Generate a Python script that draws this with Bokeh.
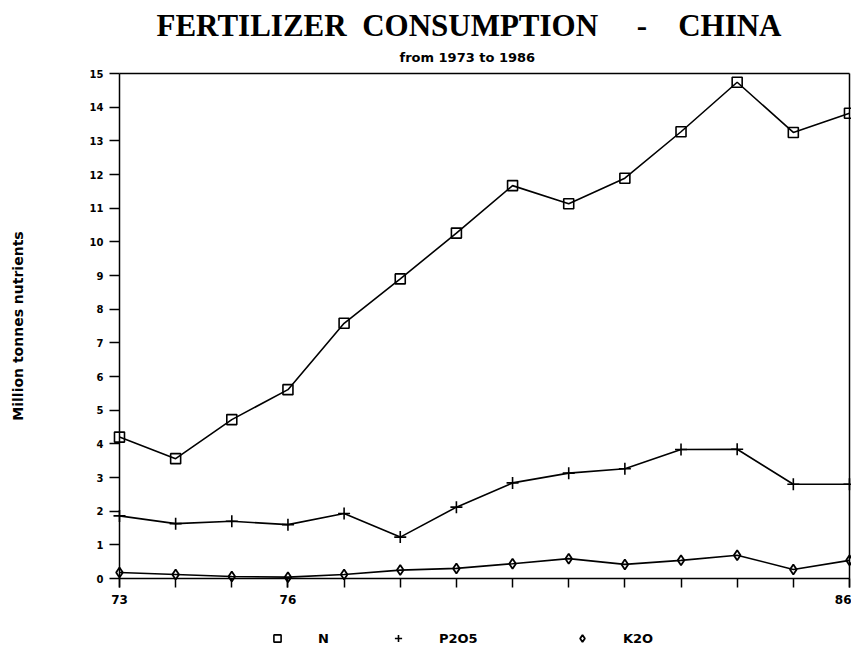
import math
from bokeh.plotting import figure
from bokeh.models import FixedTicker, Title, Legend, LegendItem, Range1d, LinearAxis, Label
from bokeh.embed import file_html
from bokeh.resources import INLINE

# ---- data (million tonnes nutrients) ----
years = [73, 74, 75, 76, 77, 78, 79, 80, 81, 82, 83, 84, 85, 86]
n_vals = [4.20, 3.56, 4.72, 5.61, 7.58, 8.90, 10.26, 11.67, 11.13, 11.89, 13.27, 14.74, 13.25, 13.82]
p2o5_vals = [1.86, 1.63, 1.70, 1.60, 1.93, 1.23, 2.12, 2.84, 3.13, 3.26, 3.83, 3.84, 2.80, 2.80]
k2o_vals = [0.18, 0.12, 0.06, 0.04, 0.12, 0.25, 0.30, 0.44, 0.59, 0.42, 0.54, 0.69, 0.27, 0.54]
x_label_years = [73, 76, 86]          # only these years carry a label
y_ticks = list(range(0, 16))
series_names = ["N", "P2O5", "K2O"]

TICK_FONT = "DejaVu Sans"
NB = "\u00a0"
X0, X1, Y0, Y1 = 73, 86, 0, 15
# view extents: room to the left for the y labels, above for the top label, below for the legend
VIEW_X = (70.881, 86.036)
VIEW_Y = (-2.049, 15.238)

p = figure(width=851, height=649, x_range=Range1d(*VIEW_X), y_range=Range1d(*VIEW_Y),
           output_backend="svg", toolbar_location=None,
           min_border_left=0, min_border_right=0, min_border_top=65, min_border_bottom=2,
           background_fill_color="white", border_fill_color="white")
p.xgrid.visible = False
p.ygrid.visible = False
p.outline_line_color = None

# titles
sub = Title(text="from 1973 to 1986", align="left", offset=399, text_font=TICK_FONT,
            text_font_size="13px", text_font_style="bold", text_color="black", standoff=2)
main = Title(text="FERTILIZER" + NB * 2 + "CONSUMPTION" + NB * 5 + "-" + NB * 4 + "CHINA",
             align="left", offset=156, text_font="Liberation Serif", text_font_size="31px",
             text_font_style="bold", text_color="black", standoff=7)
p.add_layout(sub, "above")
p.add_layout(main, "above")

# lines + markers
lw = 1.6
p.line(years, n_vals, line_color="black", line_width=lw)
rn = p.scatter(years, n_vals, marker="square", size=10, line_color="black", line_width=1.6,
               fill_color=None)
p.line(years, p2o5_vals, line_color="black", line_width=lw)
rp = p.scatter(years, p2o5_vals, marker="cross", size=12, line_color="black", line_width=1.6)
p.line(years, k2o_vals, line_color="black", line_width=lw)
rk = p.scatter(years, k2o_vals, marker="diamond", size=10, line_color="black", line_width=1.8,
               fill_color=None)

# axes (drawn at fixed data positions)
for ax in (p.xaxis[0], p.yaxis[0]):
    ax.axis_line_color = "black"
    ax.axis_line_width = 1.5
    ax.major_tick_line_width = 1.5
    ax.minor_tick_line_width = 1.5
    ax.major_tick_in = 0
    ax.minor_tick_in = 0
    ax.major_label_text_font = TICK_FONT
    ax.major_label_text_font_style = "bold"
    ax.major_label_text_color = "black"

p.xaxis.fixed_location = Y0
p.xaxis.bounds = (X0, X1)
p.xaxis.ticker = FixedTicker(ticks=x_label_years, minor_ticks=years)
p.xaxis.major_tick_out = 9
p.xaxis.minor_tick_out = 9
p.xaxis.minor_tick_line_color = "black"
p.xaxis.major_label_text_font_size = "12px"
p.xaxis.major_label_standoff = 7

p.yaxis.fixed_location = X0
p.yaxis.bounds = (Y0, Y1)
p.yaxis.ticker = FixedTicker(ticks=y_ticks)
p.yaxis.major_tick_out = 10
p.yaxis.minor_tick_line_color = None
p.yaxis.major_label_text_font_size = "10px"
p.yaxis.major_label_standoff = 6

# y axis title
p.add_layout(Label(x=71.184, y=(Y0 + Y1) / 2, text="Million tonnes nutrients", angle=math.pi / 2,
                   text_align="center", text_baseline="middle", text_font=TICK_FONT,
                   text_font_style="bold", text_font_size="14px", text_color="black"))

# top and right frame lines
top_ax = LinearAxis(fixed_location=Y1, bounds=(X0, X1), axis_line_width=1.5,
                    ticker=FixedTicker(ticks=[]), major_tick_line_color=None,
                    minor_tick_line_color=None)
right_ax = LinearAxis(fixed_location=X1, bounds=(Y0, Y1), axis_line_width=1.5,
                      ticker=FixedTicker(ticks=[]), major_tick_line_color=None,
                      minor_tick_line_color=None)
p.add_layout(top_ax, "above")
p.add_layout(right_ax, "right")

# legends below the axis, spread as in the original
legend_x = [268, 389, 573]
for name, r, lx in zip(series_names, [rn, rp, rk], legend_x):
    lg = Legend(items=[LegendItem(label=name, renderers=[r])], location=(lx, 0),
                orientation="horizontal", padding=0, margin=0, spacing=0,
                glyph_width=18, glyph_height=18, label_height=12, label_standoff=32,
                label_text_font=TICK_FONT, label_text_font_style="bold",
                label_text_font_size="13px", label_text_color="black",
                border_line_color=None, background_fill_alpha=0)
    p.add_layout(lg, "center")

open("out.html", "w").write(file_html(p, INLINE))
